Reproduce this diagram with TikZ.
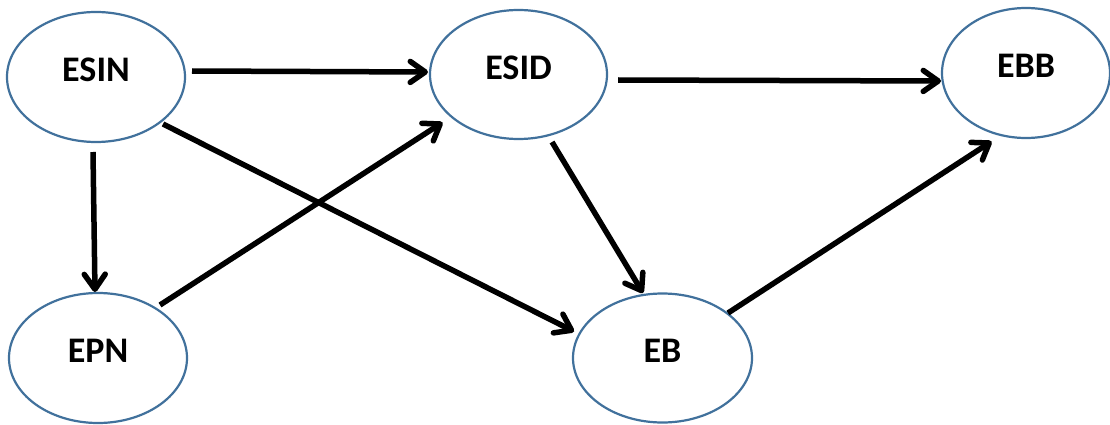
\documentclass[tikz,border=0pt]{standalone}
\usepackage{fontspec}
\setmainfont{Carlito}
\usetikzlibrary{shapes.geometric,arrows.meta}
\definecolor{edgeblue}{RGB}{65,113,156}
\tikzset{
  state/.style={draw=edgeblue, line width=2.2pt, ellipse, inner sep=0pt, fill=white},
  lbl/.style={font=\fontsize{36}{40}\selectfont\bfseries, text=black},
  arr/.style={draw=black, line width=5.5pt, -{Straight Barb[length=15pt,width=21pt,round]}}
}
\newcommand{\statenode}[6]{%
  \node[state, minimum width=#4pt, minimum height=#5pt] (#1) at (#2,#3) {};
  \node[lbl] (#1-t) at ([yshift=7pt]#1.center) {#6};
}
\begin{document}
\begin{tikzpicture}[x=1pt,y=-1pt]
\useasboundingbox (0,0) rectangle (1110,425);
\statenode{ESIN}{96}{77}{178}{130}{ESIN}
\statenode{ESID}{518.5}{74.5}{177}{129}{ESID}
\statenode{EBB}{1026}{73}{168}{130}{EBB}
\statenode{EPN}{98}{358}{178}{130}{EPN}
\statenode{EB}{662.5}{358}{179}{129}{EB}

\draw[arr] ([shift={(96,-6)}]ESIN.center) -- ([shift={(-90.5,-2.5)}]ESID.center);
\draw[arr] ([shift={(99.5,5.5)}]ESID.center) -- ([shift={(-85,8)}]EBB.center);
\draw[arr] ([shift={(-3,75)}]ESIN.center) -- ([shift={(-3,-66)}]EPN.center);
\draw[arr] ([shift={(67,47)}]ESIN.center) -- ([shift={(-88.5,-26.5)}]EB.center);
\draw[arr] ([shift={(62,-53)}]EPN.center) -- ([shift={(-76,48)}]ESID.center);
\draw[arr] ([shift={(33.5,67.5)}]ESID.center) -- ([shift={(-19.5,-65)}]EB.center);
\draw[arr] ([shift={(65.5,-45)}]EB.center) -- ([shift={(-34.5,68.5)}]EBB.center);
\end{tikzpicture}
\end{document}
